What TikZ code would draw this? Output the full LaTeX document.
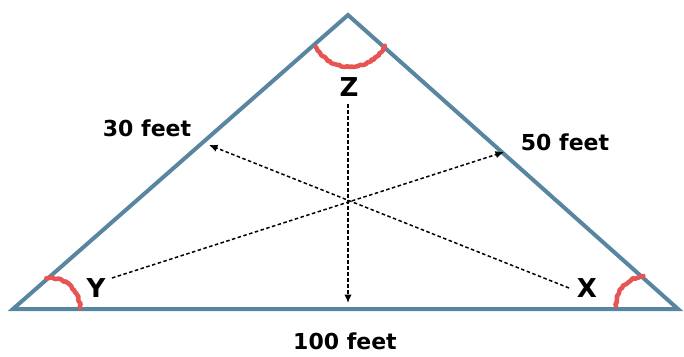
\documentclass[tikz,border=0pt]{standalone}
\usepackage{fontspec}
\setmainfont{DejaVu Sans}
\usetikzlibrary{arrows.meta,decorations.pathmorphing}
\definecolor{tri}{RGB}{88,134,160}
\definecolor{angc}{RGB}{230,84,84}
\tikzset{
  side/.style={draw=tri,line width=4pt,line join=miter},
  anglearc/.style={draw=angc,line width=4.5pt,line cap=round,line join=round,
    decorate,decoration={random steps,segment length=2pt,amplitude=0.9pt}},
  guide/.style={draw=black,line width=1.5pt,dash pattern=on 3.5pt off 2.5pt,
    -{Latex[length=8.5pt,width=7.5pt]}},
  lab/.style={font=\bfseries\fontsize{22}{24}\selectfont,inner sep=0pt},
  vlab/.style={font=\bfseries\fontsize{26}{28}\selectfont,inner sep=0pt}
}
\begin{document}
\begin{tikzpicture}[x=1pt,y=-1pt]
\useasboundingbox (0,0) rectangle (684,356);
\coordinate (L) at (13,309);
\coordinate (T) at (348,15);
\coordinate (R) at (678,309);
\path[side] (L) -- (T) -- (R) -- cycle;
% angle arcs
\path[anglearc] (350,28) ++(151:39) arc[start angle=151,end angle=27,radius=39];
\path[anglearc] (50,308) ++(-97:30) arc[start angle=-97,end angle=0,radius=30];
\path[anglearc] (646,306) ++(180:30) arc[start angle=180,end angle=265,radius=30];
% labels
\node[vlab] (Z) at (349,87) {Z};
\node[vlab] (Y) at (96,288) {Y};
\node[vlab] (X) at (587,288) {X};
\node[lab] (s30) at (147,128) {30 feet};
\node[lab] (s50) at (565,142) {50 feet};
\node[lab] (s100) at (345,341) {100 feet};
% guide ends
\coordinate (zs) at (348,104);
\coordinate (ze) at (348,303);
\coordinate (ys) at (112,278);
\coordinate (ye) at (504,152);
\coordinate (xs) at (569,288);
\coordinate (xe) at (209,145);
\draw[guide] (zs) -- (ze);
\draw[guide] (ys) -- (ye);
\draw[guide] (xs) -- (xe);
\end{tikzpicture}
\end{document}
